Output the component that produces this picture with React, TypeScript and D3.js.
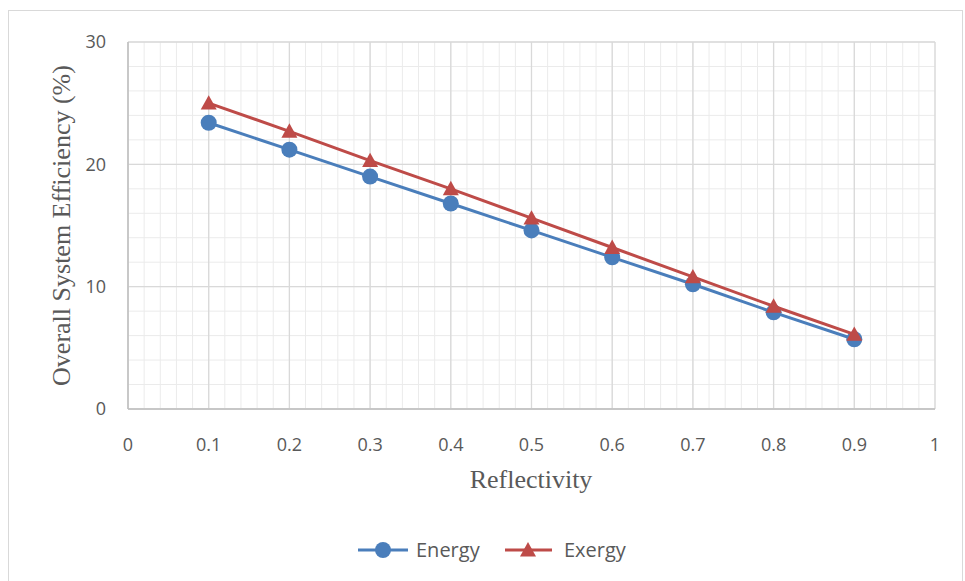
import React from "react";
import * as d3 from "d3";

const WIDTH = 965;
const HEIGHT = 581;
const MARGIN = { top: 42, left: 128, right: 30, bottom: 172 };

const reflectivity = [0.1, 0.2, 0.3, 0.4, 0.5, 0.6, 0.7, 0.8, 0.9];
const energy = [23.4, 21.2, 19.0, 16.8, 14.6, 12.4, 10.2, 7.9, 5.7];
const exergy = [25.0, 22.7, 20.3, 18.0, 15.6, 13.2, 10.8, 8.4, 6.1];

const xTicks = [0, 0.1, 0.2, 0.3, 0.4, 0.5, 0.6, 0.7, 0.8, 0.9, 1];
const yTicks = [0, 10, 20, 30];

const BLUE = "#4a7ebb";
const RED = "#be4b48";
const TEXT = "#595959";
const TICK_FONT = "'Open Sans', 'Liberation Sans', sans-serif";
const TITLE_FONT = "'Liberation Serif', 'DejaVu Serif', serif";

const x = d3
  .scaleLinear()
  .domain([0, 1])
  .range([MARGIN.left, WIDTH - MARGIN.right]);
const y = d3
  .scaleLinear()
  .domain([0, 30])
  .range([HEIGHT - MARGIN.bottom, MARGIN.top]);

const line = d3
  .line<number>()
  .x((d, i) => x(reflectivity[i]))
  .y(d => y(d));

const triangle = (cx: number, cy: number, s = 8) =>
  `M${cx},${cy - s} L${cx + s},${cy + s * 0.8} L${cx - s},${cy + s * 0.8} Z`;

export default function App() {
  const xMinor = d3.range(0, 1.0001, 0.02);
  const yMinor = d3.range(0, 30.001, 2);
  const [y0, y1] = y.range();

  return (
    <svg
      width={WIDTH}
      height={HEIGHT}
      style={{ position: "absolute", left: 0, top: 0, display: "block" }}
    >
      <rect width={WIDTH} height={HEIGHT} fill="#fff" />
      <rect x={8.5} y={10.5} width={954} height={600} fill="none" stroke="#d9d9d9" />

      {/* minor grid */}
      {xMinor.map(v => (
        <line key={"xm" + v} x1={x(v)} x2={x(v)} y1={y0} y2={y1} stroke="#ebebeb" strokeWidth={1} />
      ))}
      {yMinor.map(v => (
        <line key={"ym" + v} x1={x(0)} x2={x(1)} y1={y(v)} y2={y(v)} stroke="#ebebeb" strokeWidth={1} />
      ))}
      {/* major grid */}
      {xTicks.map(v => (
        <line key={"xg" + v} x1={x(v)} x2={x(v)} y1={y0} y2={y1} stroke="#d9d9d9" strokeWidth={1.3} />
      ))}
      {yTicks.map(v => (
        <line key={"yg" + v} x1={x(0)} x2={x(1)} y1={y(v)} y2={y(v)} stroke="#d9d9d9" strokeWidth={1.3} />
      ))}
      <line x1={x(0)} x2={x(1)} y1={y(0)} y2={y(0)} stroke="#bfbfbf" strokeWidth={1.5} />
      <line x1={x(0)} x2={x(0)} y1={y0} y2={y1} stroke="#bfbfbf" strokeWidth={1.5} />

      {/* tick labels */}
      {yTicks.map(v => (
        <text key={"yt" + v} x={x(0) - 22} y={y(v)} dy="0.35em" textAnchor="end"
          fontFamily={TICK_FONT} fontSize={18} fill={TEXT}>
          {v}
        </text>
      ))}
      {xTicks.map(v => (
        <text key={"xt" + v} x={x(v)} y={y(0) + 42} textAnchor="middle"
          fontFamily={TICK_FONT} fontSize={18} fill={TEXT}>
          {v}
        </text>
      ))}

      {/* axis titles */}
      <text x={531} y={488} textAnchor="middle" fontFamily={TITLE_FONT} fontSize={26} fill={TEXT}>
        Reflectivity
      </text>
      <text transform={`translate(70,${(y0 + y1) / 2 + 0}) rotate(-90)`} textAnchor="middle"
        fontFamily={TITLE_FONT} fontSize={26} fill={TEXT}>
        Overall System Efficiency (%)
      </text>

      {/* series */}
      <path d={line(energy) || ""} fill="none" stroke={BLUE} strokeWidth={3} />
      {energy.map((v, i) => (
        <circle key={"e" + i} cx={x(reflectivity[i])} cy={y(v)} r={8} fill={BLUE} />
      ))}
      <path d={line(exergy) || ""} fill="none" stroke={RED} strokeWidth={3} />
      {exergy.map((v, i) => (
        <path key={"x" + i} d={triangle(x(reflectivity[i]), y(v))} fill={RED} />
      ))}

      {/* legend */}
      <g fontFamily={TICK_FONT} fontSize={20} fill={TEXT}>
        <line x1={358} x2={408} y1={550} y2={550} stroke={BLUE} strokeWidth={3} />
        <circle cx={383} cy={550} r={8} fill={BLUE} />
        <text x={416} y={550} dy="0.35em">Energy</text>
        <line x1={505} x2={552} y1={550} y2={550} stroke={RED} strokeWidth={3} />
        <path d={triangle(528, 550)} fill={RED} />
        <text x={564} y={550} dy="0.35em">Exergy</text>
      </g>
    </svg>
  );
}
